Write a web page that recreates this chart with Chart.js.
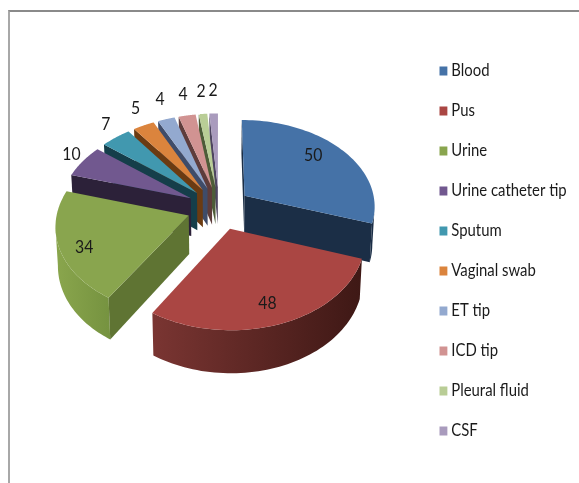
<!DOCTYPE html>
<html>
<head>
<meta charset="utf-8">
<script src="https://cdn.jsdelivr.net/npm/chart.js@4"></script>
<style>
  html, body { margin: 0; padding: 0; background: #fff; }
  #wrap { position: relative; width: 579px; height: 483px; overflow: hidden; }
  #frame { position: absolute; left: 8px; top: 10px; right: 0; bottom: -5px; border-top: 2px solid #8a8a8a; border-left: 2px solid #a8a8a8; }
  canvas { position: absolute; left: 0; top: 0; }
</style>
</head>
<body>
<div id="wrap">
  <div id="frame"></div>
  <canvas id="myChart" width="579" height="483"></canvas>
</div>
<script>
const categories = ['Blood', 'Pus', 'Urine', 'Urine catheter tip', 'Sputum', 'Vaginal swab', 'ET tip', 'ICD tip', 'Pleural fluid', 'CSF'];
const values = [50, 48, 34, 10, 7, 5, 4, 4, 2, 2];
const topColors = ['#4572a7', '#aa4643', '#89a54e', '#71588f', '#4198af', '#db843d', '#93a9cf', '#d19392', '#b9cd96', '#a99bbd'];
const wallColors = ['#1b2e46', '#3e1815', '#5f7433', '#2c2139', '#153e4a', '#6b3b12', '#3f4c69', '#5e3c3b', '#4d5c38', '#4e4560'];
const rimLeft = ['#1b2e46', '#7a3532', '#8aa64d', '#2c2139', '#153e4a', '#6b3b12', '#3f4c69', '#5e3c3b', '#4d5c38', '#4e4560'];
const rimRight = ['#1b2e46', '#3e1815', '#769340', '#2c2139', '#153e4a', '#6b3b12', '#3f4c69', '#5e3c3b', '#4d5c38', '#4e4560'];

const fontName = 'Lato, sans-serif';
const textSquash = 0.875;   // в оригинале шрифт узкий и вытянутый по вертикали
const legendX = 443;

// круговая 3D диаграмма: углы берём из элементов Chart.js, наклон и перспективу считаем здесь
const pie3d = {
    id: 'pie3d',
    beforeDraw(chart) {
        // сжимаем легенду по горизонтали, оставляя её настоящей легендой Chart.js
        const legend = chart.legend;
        if (legend._squashed) return;
        legend._squashed = true;
        const draw = legend.draw;
        legend.draw = function () {
            const c = this.ctx;
            const left = this.legendHitBoxes[0].left;
            c.save();
            c.translate(legendX, 0);
            c.scale(textSquash, 1);
            c.translate(-left, 0);
            draw.call(this);
            c.restore();
        };
    },
    beforeDatasetsDraw(chart, args, opts) {
        const ctx = chart.ctx;
        const arcs = chart.getDatasetMeta(0).data;
        const project = (u, v, z) => {
            const f = 1 + opts.persp * v;
            const shrink = 1 - opts.shrink * z / opts.depth;
            return { x: opts.cx + u * f * shrink, y: opts.cy + v * opts.tilt * f + z * f };
        };
        const sector = arcs.map((arc) => {
            const mid = (arc.startAngle + arc.endAngle) / 2;
            const off = arc.options.offset;
            const r = arc.outerRadius;
            const u0 = Math.cos(mid) * off;
            const v0 = Math.sin(mid) * off;
            const at = (a, t, z) => project(u0 + Math.cos(a) * r * t, v0 + Math.sin(a) * r * t, z);
            return { arc, mid, at };
        });
        const fillPoly = (pts, color) => {
            ctx.beginPath();
            pts.forEach((p, i) => (i ? ctx.lineTo(p.x, p.y) : ctx.moveTo(p.x, p.y)));
            ctx.closePath();
            ctx.fillStyle = color;
            ctx.fill();
        };

        // порядок рисования: от дальних секторов к ближним
        const order = arcs.map((a, i) => i).slice(2).reverse().concat([0, 1]);
        order.forEach((i) => {
            const { arc, at } = sector[i];
            const n = 60;
            const rim = [];
            for (let k = 0; k <= n; k++) {
                rim.push(arc.startAngle + (arc.endAngle - arc.startAngle) * k / n);
            }
            const apex = at(0, 0, 0);
            const apexLow = at(0, 0, opts.depth);
            const start = at(arc.startAngle, 1, 0);
            const end = at(arc.endAngle, 1, 0);

            // внешняя стенка: только те участки, что смотрят на зрителя
            const seen = rim.filter((a, k) => {
                const p = at(a, 1, 0);
                const q = at(rim[Math.min(k + 1, n)], 1, 0);
                const w = at(rim[Math.max(k - 1, 0)], 1, 0);
                return q.x < p.x || p.x < w.x;
            });
            if (seen.length > 1) {
                const upper = seen.map((a) => at(a, 1, 0));
                const lower = seen.map((a) => at(a, 1, opts.depth)).reverse();
                const xs = upper.map((p) => p.x);
                const g = ctx.createLinearGradient(Math.min(...xs), 0, Math.max(...xs), 0);
                g.addColorStop(0, rimLeft[i]);
                g.addColorStop(1, rimRight[i]);
                fillPoly(upper.concat(lower), g);
            }

            if (start.x < apex.x) {
                fillPoly([apex, start, at(arc.startAngle, 1, opts.depth), apexLow], wallColors[i]);
            }
            if (apex.x < end.x) {
                fillPoly([end, apex, apexLow, at(arc.endAngle, 1, opts.depth)], wallColors[i]);
            }

            fillPoly([apex].concat(rim.map((a) => at(a, 1, 0))), topColors[i]);
        });

        ctx.fillStyle = '#1a1a1a';
        ctx.font = '18px ' + fontName;
        ctx.textAlign = 'center';
        ctx.textBaseline = 'middle';
        sector.forEach((s, i) => {
            let p;
            if (i < opts.insideReach.length) {
                p = s.at(s.mid, opts.insideReach[i], 0);
                p = { x: p.x + opts.insideNudge[i][0], y: p.y + opts.insideNudge[i][1] };
            } else {
                const a = s.at(s.mid, 1, 0);
                const b = s.at(s.mid, 1.1, 0);
                const d = Math.hypot(b.x - a.x, b.y - a.y);
                p = { x: a.x + (b.x - a.x) / d * opts.labelGapX, y: a.y + (b.y - a.y) / d * opts.labelGapY };
            }
            ctx.save();
            ctx.translate(p.x, p.y);
            ctx.scale(textSquash, 1);
            ctx.fillText(String(values[i]), 0, 0);
            ctx.restore();
        });
        return false;
    }
};

const ctx = document.getElementById('myChart').getContext('2d');
const myChart = new Chart(ctx, {
    type: 'pie',
    data: {
        labels: categories,
        datasets: [{
            data: values,
            backgroundColor: topColors,
            borderWidth: 0,
            offset: 32,
            radius: 131
        }]
    },
    options: {
        responsive: false,
        animation: false,
        layout: { padding: { top: 19 } },
        plugins: {
            tooltip: { enabled: false },
            pie3d: {
                cx: 219, cy: 208, tilt: 0.67, persp: 0.00082, depth: 38, shrink: 0.015,
                insideReach: [0.74, 0.76, 0.82],
                insideNudge: [[-4, -5], [0, 4], [1, 5]],
                labelGapX: 12, labelGapY: 23
            },
            legend: {
                position: 'right',
                labels: {
                    usePointStyle: true,
                    pointStyle: 'rect',
                    boxWidth: 1,
                    boxHeight: 9,
                    padding: 23,
                    color: '#1a1a1a',
                    font: { family: fontName, size: 17 }
                }
            }
        }
    },
    plugins: [pie3d]
});
</script>
</body>
</html>
